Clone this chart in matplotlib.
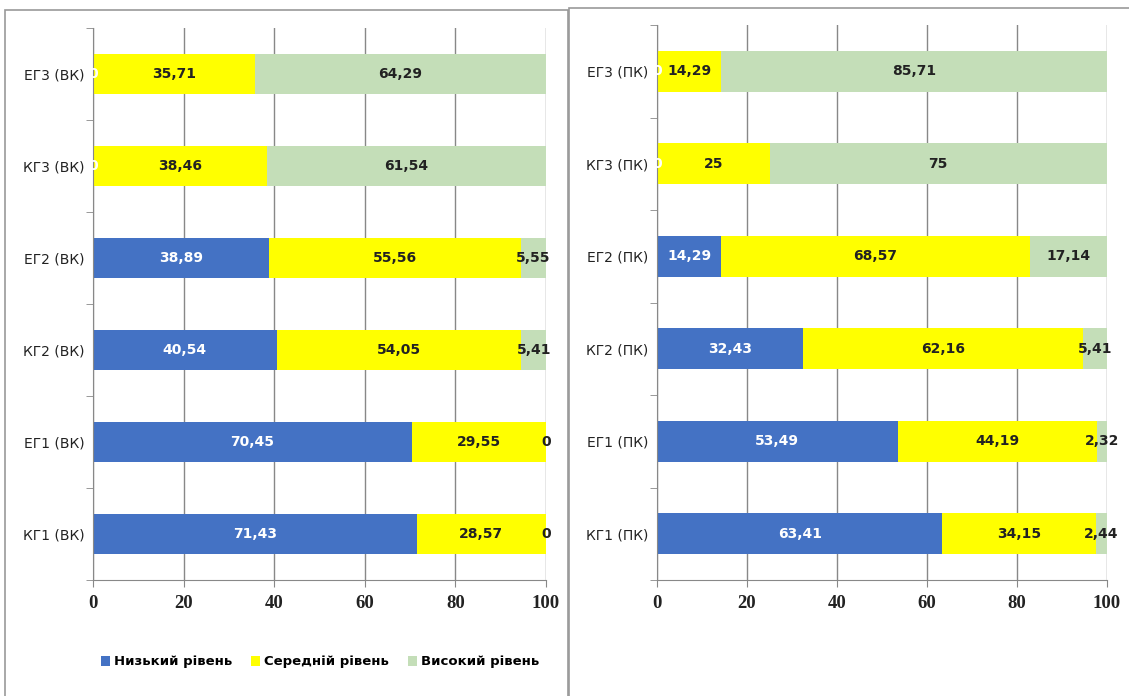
import numpy as np
import matplotlib.pyplot as plt
from matplotlib.patches import Rectangle

groups_vk = ['КГ1 (ВК)', 'ЕГ1 (ВК)', 'КГ2 (ВК)', 'ЕГ2 (ВК)', 'КГ3 (ВК)', 'ЕГ3 (ВК)']
low_vk = [71.43, 70.45, 40.54, 38.89, 0, 0]
mid_vk = [28.57, 29.55, 54.05, 55.56, 38.46, 35.71]
high_vk = [0, 0, 5.41, 5.55, 61.54, 64.29]

groups_pk = ['КГ1 (ПК)', 'ЕГ1 (ПК)', 'КГ2 (ПК)', 'ЕГ2 (ПК)', 'КГ3 (ПК)', 'ЕГ3 (ПК)']
low_pk = [63.41, 53.49, 32.43, 14.29, 0, 0]
mid_pk = [34.15, 44.19, 62.16, 68.57, 25, 14.29]
high_pk = [2.44, 2.32, 5.41, 17.14, 75, 85.71]

x_ticks = [0, 20, 40, 60, 80, 100]

series_names = ['Низький рівень', 'Середній рівень', 'Високий рівень']
colors = ['#4472C4', '#FFFF00', '#C4DEB8']
text_colors = ['white', '#222222', '#222222']

plt.rcParams['font.family'] = ['DejaVu Sans']


def fmt(v):
    s = ('%.2f' % v).rstrip('0').rstrip('.')
    return s.replace('.', ',')


def draw(ax, groups, series):
    y = np.arange(len(groups))
    left = np.zeros(len(groups))
    handles = []
    for vals, c, tc, name in zip(series, colors, text_colors, series_names):
        vals = np.array(vals, dtype=float)
        h = ax.barh(y, vals, left=left, height=0.44, color=c, label=name, zorder=2)
        handles.append(h)
        for yi, l, v in zip(y, left, vals):
            ax.text(l + v / 2, yi, fmt(v), ha='center', va='center', color=tc,
                    fontsize=10, fontweight='bold', zorder=3)
        left = left + vals
    ax.set_xlim(0, 100)
    ax.set_ylim(-0.5, len(groups) - 0.5)
    ax.set_xticks(x_ticks, labels=[str(t) for t in x_ticks],
                  fontfamily='Liberation Serif', fontweight='bold', fontsize=13.5,
                  color='#222222')
    ax.set_yticks(y, labels=groups, fontsize=10, color='#222222')
    ax.set_yticks(np.arange(-0.5, len(groups)), minor=True)
    ax.tick_params(axis='y', which='major', length=0, pad=6)
    ax.tick_params(axis='y', which='minor', length=5, color='#888888')
    ax.tick_params(axis='x', length=5, color='#888888', pad=6)
    ax.grid(axis='x', color='#888888', linewidth=1, zorder=0)
    for s in ['top', 'right']:
        ax.spines[s].set_visible(False)
    for s in ['left', 'bottom']:
        ax.spines[s].set_color('#888888')
    return handles


fig = plt.figure(figsize=(11.29, 6.96), dpi=100)

# panel frames
fig.patches.append(Rectangle((5 / 1129, -0.01), 563 / 1129, 1 - 10 / 696 + 0.01,
                             transform=fig.transFigure, fill=False,
                             edgecolor='#999999', linewidth=1.2))
fig.patches.append(Rectangle((569 / 1129, -0.01), 565 / 1129, 1 - 8 / 696 + 0.01,
                             transform=fig.transFigure, fill=False,
                             edgecolor='#999999', linewidth=1.2))

ax1 = fig.add_axes([93 / 1129, 1 - 580 / 696, 453 / 1129, 552 / 696])
ax2 = fig.add_axes([657 / 1129, 1 - 580 / 696, 450 / 1129, 555 / 696])

handles = draw(ax1, groups_vk, [low_vk, mid_vk, high_vk])
draw(ax2, groups_pk, [low_pk, mid_pk, high_pk])

fig.legend(handles=handles, loc='center', bbox_to_anchor=(320 / 1129, 1 - 662 / 696),
           ncol=3, frameon=False, handlelength=0.7, handleheight=0.7,
           handletextpad=0.3, columnspacing=1.4,
           prop={'family': 'DejaVu Sans', 'weight': 'bold', 'size': 9.5})

fig.savefig('out.png', dpi=100)
